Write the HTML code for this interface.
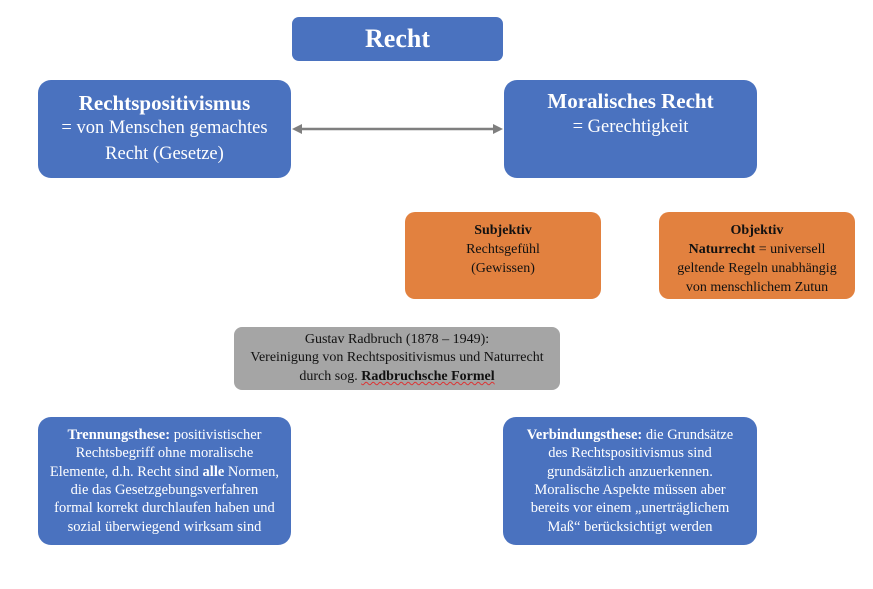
<!DOCTYPE html>
<html><head><meta charset="utf-8"><style>
body{margin:0;width:873px;height:589px;background:#fff;position:relative;font-family:"Liberation Serif","DejaVu Serif",serif;overflow:hidden}
.b{position:absolute;box-sizing:border-box;display:flex;flex-direction:column;justify-content:center;align-items:center;text-align:center;color:#fff;white-space:nowrap}
.blue{background:#4a72bf;border-radius:13px}
.or{background:#e2813f;border-radius:10px;color:#111;font-size:14px;line-height:19px;justify-content:flex-start;padding-top:9px}
.sm{font-size:14.5px;line-height:18.4px}
</style></head><body>
<div class="b blue" style="left:292px;top:17px;width:211px;height:44px;border-radius:7px;font-size:26px;font-weight:bold">Recht</div>
<div class="b blue" style="left:38px;top:80px;width:253px;height:98px;font-size:18.5px;line-height:25.5px"><b style="font-size:21px">Rechtspositivismus</b>= von Menschen gemachtes<br>Recht (Gesetze)</div>
<div class="b blue" style="left:504px;top:80px;width:253px;height:98px;font-size:18.5px;line-height:25.5px;justify-content:flex-start;padding-top:9px"><b style="font-size:21px">Moralisches Recht</b>= Gerechtigkeit</div>
<svg style="position:absolute;left:0;top:0" width="873" height="589">
<line x1="300" y1="129" x2="496" y2="129" stroke="#7f7f7f" stroke-width="2.5"/>
<polygon points="292,129 302,124 302,134" fill="#7f7f7f"/>
<polygon points="503,129 493,124 493,134" fill="#7f7f7f"/>
</svg>
<div class="b or" style="left:405px;top:212px;width:196px;height:87px"><b>Subjektiv</b>Rechtsgefühl<br>(Gewissen)</div>
<div class="b or" style="left:659px;top:212px;width:196px;height:87px"><b>Objektiv</b><span><b>Naturrecht</b> = universell</span>geltende Regeln unabhängig<br>von menschlichem Zutun</div>
<div class="b" style="left:234px;top:327px;width:326px;height:63px;background:#a5a5a5;border-radius:8px;color:#111;font-size:14px;line-height:18.5px">Gustav Radbruch (1878 – 1949):<br>Vereinigung von Rechtspositivismus und Naturrecht<span>durch sog. <b style="text-decoration:underline wavy #d33;text-decoration-thickness:1px">Radbruchsche Formel</b></span></div>
<div class="b blue sm" style="left:38px;top:417px;width:253px;height:128px"><span><b>Trennungsthese:</b> positivistischer</span>Rechtsbegriff ohne moralische<br><span>Elemente, d.h. Recht sind <b>alle</b> Normen,</span>die das Gesetzgebungsverfahren<br>formal korrekt durchlaufen haben und<br>sozial überwiegend wirksam sind</div>
<div class="b blue sm" style="left:503px;top:417px;width:254px;height:128px"><span><b>Verbindungsthese:</b> die Grundsätze</span>des Rechtspositivismus sind<br>grundsätzlich anzuerkennen.<br>Moralische Aspekte müssen aber<br>bereits vor einem „unerträglichem<br>Maß“ berücksichtigt werden</div>
</body></html>
